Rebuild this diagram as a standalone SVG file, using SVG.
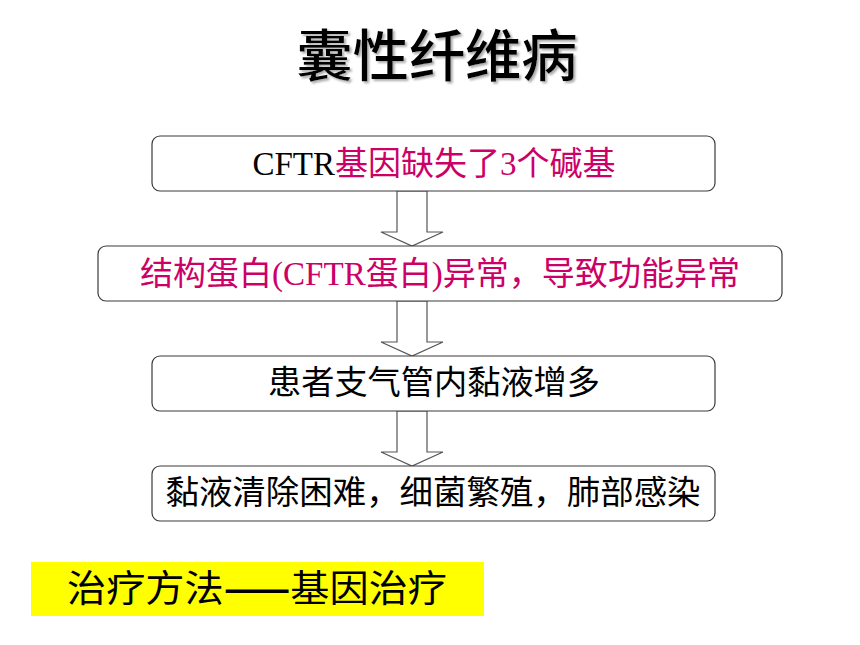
<svg xmlns="http://www.w3.org/2000/svg" width="860" height="645" viewBox="0 0 860 645">
<defs>
<filter id="shadow" x="-10%" y="-20%" width="130%" height="150%">
<feDropShadow dx="2" dy="2" stdDeviation="1" flood-color="#888" flood-opacity="0.7"/>
</filter>
</defs>
<style>
.box{fill:#fff;stroke:#3a3a3a;stroke-width:1.2}
.arr{fill:#fff;stroke:#555;stroke-width:1.2}
.t{font-family:"Noto Sans CJK SC","Liberation Sans",sans-serif;font-size:33px;text-anchor:middle}
.lat{font-family:"Liberation Serif","Noto Sans CJK SC",serif}
.pink{fill:#CC0066}
.blk{fill:#000}
</style>
<rect width="860" height="645" fill="#fff"/>
<g id="title">
<text x="437" y="76" font-family="'Noto Sans CJK SC',sans-serif" font-size="56" font-weight="500" text-anchor="middle" fill="#000" filter="url(#shadow)" textLength="281" lengthAdjust="spacingAndGlyphs">囊性纤维病</text>
</g>
<g id="connectors">
<polygon class="arr" points="397,191 427,191 427,232 443,232 412,246 381,232 397,232"/>
<polygon class="arr" points="397,301 427,301 427,342 443,342 412,356 381,342 397,342"/>
<polygon class="arr" points="397,411 427,411 427,452 443,452 412,466 381,452 397,452"/>
</g>
<g id="node1">
<rect class="box" x="152" y="136" width="563" height="55" rx="8"/>
<text class="t" x="434" y="175"><tspan class="lat blk">CFTR</tspan><tspan class="pink">基因缺失了</tspan><tspan class="lat pink">3</tspan><tspan class="pink">个碱基</tspan></text>
</g>
<g id="node2">
<rect class="box" x="98" y="246" width="684" height="55" rx="8"/>
<text class="t pink" x="440" y="285" textLength="600" lengthAdjust="spacingAndGlyphs">结构蛋白<tspan class="lat">(CFTR</tspan>蛋白<tspan class="lat">)</tspan>异常，导致功能异常</text>
</g>
<g id="node3">
<rect class="box" x="152" y="356" width="563" height="55" rx="8"/>
<text class="t blk" x="434" y="394" textLength="332" lengthAdjust="spacingAndGlyphs">患者支气管内黏液增多</text>
</g>
<g id="node4">
<rect class="box" x="152" y="466" width="563" height="55" rx="8"/>
<text class="t blk" x="433" y="504" textLength="535" lengthAdjust="spacingAndGlyphs">黏液清除困难，细菌繁殖，肺部感染</text>
</g>
<g id="treatment">
<rect x="31" y="562" width="453" height="54" fill="#FFFF00"/>
<text x="67" y="602" font-family="'Noto Sans CJK SC',sans-serif" font-size="37" fill="#000" textLength="380" lengthAdjust="spacingAndGlyphs">治疗方法<tspan font-weight="bold">——</tspan>基因治疗</text>
</g>
</svg>
